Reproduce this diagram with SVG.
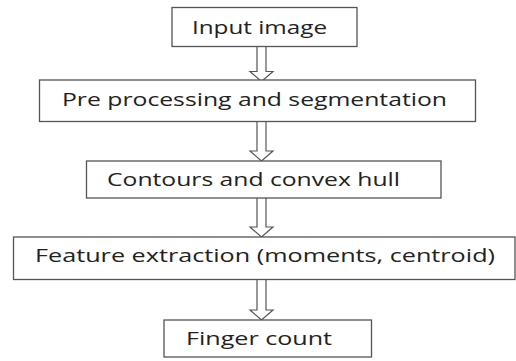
<svg xmlns="http://www.w3.org/2000/svg" width="516" height="361" viewBox="0 0 516 361">
<style>
.box{fill:#fff;stroke:#555;stroke-width:1.3}
.lbl{font-family:"Open Sans","Noto Sans","Liberation Sans",sans-serif;font-size:17.5px;fill:#222}
.arr{fill:#fff;stroke:#555;stroke-width:1.2;stroke-linejoin:miter}
</style>
<rect width="516" height="361" fill="#fff"/>
<g id="connectors">
<path class="arr" d="M257,47 V71.5 H250 L261.5,81.5 L273,71.5 H266 V47"/>
<path class="arr" d="M257,122 V151 H250 L261.5,161 L273,151 H266 V122"/>
<path class="arr" d="M257,198 V227 H250 L261.5,237 L273,227 H266 V198"/>
<path class="arr" d="M257,280 V310 H250 L261.5,320 L273,310 H266 V280"/>
</g>
<g id="input">
<rect class="box" x="172" y="7.5" width="185" height="39"/>
<text class="lbl" x="192" y="33.5" textLength="135" lengthAdjust="spacingAndGlyphs">Input image</text>
</g>
<g id="preprocessing">
<rect class="box" x="39.5" y="80" width="436" height="41.5"/>
<text class="lbl" x="62" y="105.5" textLength="385" lengthAdjust="spacingAndGlyphs">Pre processing and segmentation</text>
</g>
<g id="contours">
<rect class="box" x="86.5" y="161" width="354.5" height="37"/>
<text class="lbl" x="107" y="186" textLength="293" lengthAdjust="spacingAndGlyphs">Contours and convex hull</text>
</g>
<g id="features">
<rect class="box" x="13.5" y="237" width="501.5" height="42.5"/>
<text class="lbl" x="35" y="262" textLength="460" lengthAdjust="spacingAndGlyphs">Feature extraction (moments, centroid)</text>
</g>
<g id="fingercount">
<rect class="box" x="164" y="320" width="207.5" height="37"/>
<text class="lbl" x="186" y="345" textLength="146" lengthAdjust="spacingAndGlyphs">Finger count</text>
</g>
</svg>
